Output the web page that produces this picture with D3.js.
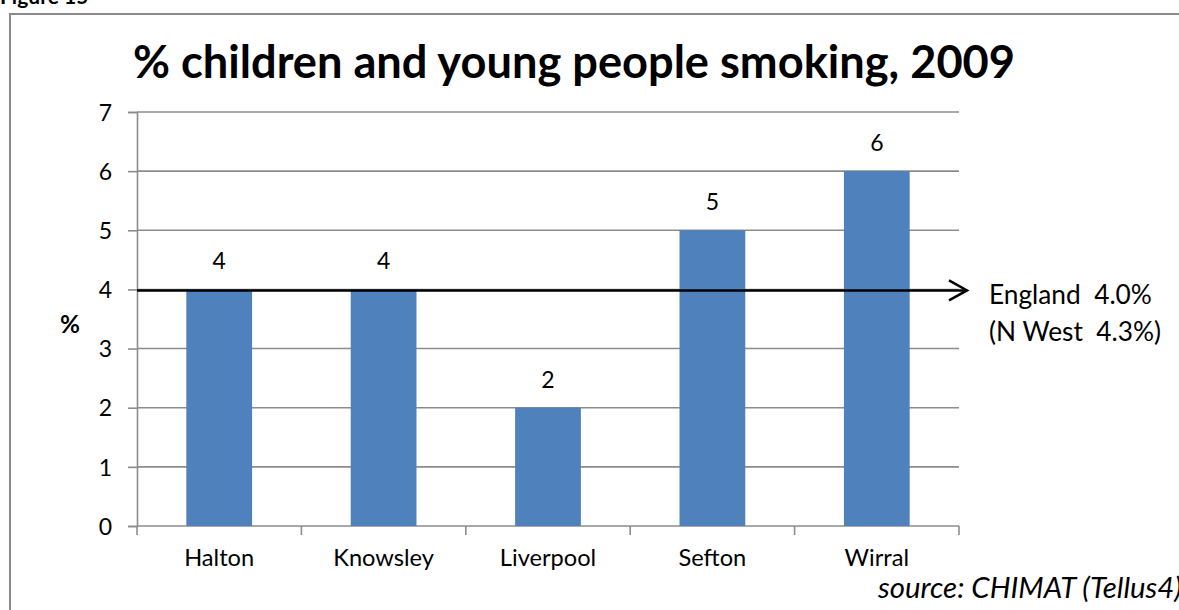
<!DOCTYPE html>
<html>
<head>
<meta charset="utf-8">
<script src="https://cdn.jsdelivr.net/npm/d3@7"></script>
<style>
  html, body { margin: 0; padding: 0; background: #fff; }
  svg { display: block; }
  text { font-family: Lato, "Open Sans", sans-serif; fill: #000; white-space: pre; }
</style>
</head>
<body>
<svg id="chart" width="1179" height="610"></svg>
<script>
const categories = ["Halton", "Knowsley", "Liverpool", "Sefton", "Wirral"];
const values = [4, 4, 2, 5, 6];
const yTicks = [0, 1, 2, 3, 4, 5, 6, 7];
const englandValue = 4.0;
const refLabels = ["England  4.0%", "(N West  4.3%)"];
const titleText = "% children and young people smoking, 2009";
const figureText = "Figure 15";
const sourceText = "source: CHIMAT (Tellus4)";

const svg = d3.select("#chart");
const plot = { left: 137, right: 959, top: 112, bottom: 526 };

function fit(sel, target) {
  const node = sel.node();
  const fs = parseFloat(sel.attr("font-size"));
  const w = node.getComputedTextLength();
  const nfs = fs * target / w;
  sel.attr("font-size", nfs.toFixed(2));
  return nfs;
}

// figure label (cut at top)
svg.append("text").attr("x", 0).attr("y", 4)
  .attr("font-family", "Liberation Sans, Arial, sans-serif")
  .attr("font-weight", "bold").attr("font-size", 21).text(figureText);

// chart frame
svg.append("rect").attr("x", 10).attr("y", 14).attr("width", 1200).attr("height", 620)
  .attr("fill", "none").attr("stroke", "#8a8a8a").attr("stroke-width", 2);

const x = d3.scaleBand().domain(categories).range([plot.left, plot.right])
  .paddingInner(0.6).paddingOuter(0.3);
const y = d3.scaleLinear().domain([0, 7]).range([plot.bottom, plot.top]);

const digitSize = 23;

// gridlines
svg.append("g").selectAll("line").data(yTicks.filter(d => d > 0)).join("line")
  .attr("x1", plot.left).attr("x2", plot.right)
  .attr("y1", d => y(d)).attr("y2", d => y(d))
  .attr("stroke", "#8c8c8c").attr("stroke-width", 1.6);

// y axis
const yAxis = svg.append("g").attr("transform", `translate(${plot.left},0)`)
  .call(d3.axisLeft(y).tickValues(yTicks).tickSize(9).tickPadding(16).tickFormat(d3.format("d")));
yAxis.attr("font-family", null).attr("font-size", null);
yAxis.select(".domain").attr("stroke", "#8c8c8c").attr("stroke-width", 1.6);
yAxis.selectAll(".tick line").attr("stroke", "#8c8c8c").attr("stroke-width", 1.6);
yAxis.selectAll(".tick text").attr("font-size", digitSize).attr("fill", "#000").attr("dy", "0.36em");

// x axis line + boundary ticks
svg.append("line").attr("x1", plot.left).attr("x2", plot.right)
  .attr("y1", y(0)).attr("y2", y(0)).attr("stroke", "#8c8c8c").attr("stroke-width", 1.6);
const bounds = d3.range(categories.length + 1).map(i => plot.left + i * (plot.right - plot.left) / categories.length);
svg.append("g").selectAll("line").data(bounds).join("line")
  .attr("x1", d => d).attr("x2", d => d).attr("y1", y(0)).attr("y2", y(0) + 9)
  .attr("stroke", "#8c8c8c").attr("stroke-width", 1.6);

// category labels
const catLabels = svg.append("g").selectAll("text").data(categories).join("text")
  .attr("x", d => x(d) + x.bandwidth() / 2).attr("y", 566)
  .attr("text-anchor", "middle").attr("font-size", 20).text(d => d);
const catSize = fit(d3.select(catLabels.nodes()[0]), 70);
catLabels.attr("font-size", catSize.toFixed(2));

// bars
svg.append("g").selectAll("rect").data(values).join("rect")
  .attr("x", (d, i) => x(categories[i])).attr("width", x.bandwidth())
  .attr("y", d => y(d)).attr("height", d => y(0) - y(d))
  .attr("fill", "#4f81bd");

// value labels
svg.append("g").selectAll("text").data(values).join("text")
  .attr("x", (d, i) => x(categories[i]) + x.bandwidth() / 2).attr("y", d => y(d) - 20)
  .attr("text-anchor", "middle").attr("font-size", digitSize).text(d => d);

// England reference line with arrow
const ey = y(englandValue) + 1;
const tipX = 967;
svg.append("line").attr("x1", plot.left).attr("x2", tipX).attr("y1", ey).attr("y2", ey)
  .attr("stroke", "#000").attr("stroke-width", 2.5);
svg.append("path").attr("d", d3.line()([[tipX - 18, ey - 10], [tipX, ey], [tipX - 18, ey + 10]]))
  .attr("fill", "none").attr("stroke", "#000").attr("stroke-width", 2.5);

const r1 = svg.append("text").attr("x", 989).attr("y", 304).attr("font-size", 21).text(refLabels[0]);
const rs = fit(r1, 163);
svg.append("text").attr("x", 989).attr("y", 341).attr("font-size", rs.toFixed(2)).text(refLabels[1]);

// "%" axis title
const pct = svg.append("text").attr("x", 70).attr("y", 333).attr("text-anchor", "middle")
  .attr("font-weight", "bold").attr("font-size", 21).text("%");
fit(pct, 20);

// title
const t = svg.append("text").attr("x", 133).attr("y", 78).attr("font-weight", "bold")
  .attr("font-size", 40).text(titleText);
fit(t, 882);

// source (cut at right edge, as in the original)
const src = svg.append("text").attr("x", 878).attr("y", 598)
  .attr("font-style", "italic").attr("font-size", 20).text(sourceText);
fit(src, 304);
</script>
</body>
</html>
